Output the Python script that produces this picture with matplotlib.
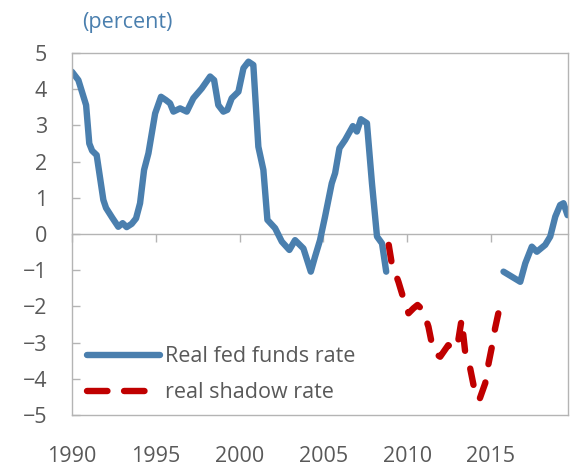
import numpy as np
import matplotlib.pyplot as plt
from matplotlib.lines import Line2D

plt.rcParams['font.family'] = ['Open Sans', 'DejaVu Sans']

# real fed funds rate, first stretch (decimal year, percent)
ffr_years_1 = [1990.0, 1990.38, 1990.84, 1991.03, 1991.2, 1991.47, 1991.87, 1992.03,
               1992.4, 1992.76, 1993.02, 1993.26, 1993.56, 1993.82, 1994.06, 1994.3,
               1994.56, 1994.96, 1995.31, 1995.6, 1995.85, 1996.05, 1996.45, 1996.85,
               1997.24, 1997.74, 1998.24, 1998.48, 1998.73, 1999.03, 1999.27, 1999.53,
               1999.93, 2000.23, 2000.53, 2000.82, 2001.12, 2001.42, 2001.66, 2002.12,
               2002.52, 2002.97, 2003.31, 2003.81, 2004.25, 2004.5, 2004.8, 2005.1,
               2005.5, 2005.7, 2005.96, 2006.3, 2006.76, 2007.0, 2007.24, 2007.6,
               2007.9, 2008.2, 2008.5, 2008.75]
ffr_vals_1 = [4.48, 4.25, 3.56, 2.5, 2.3, 2.18, 0.94, 0.72,
              0.45, 0.2, 0.3, 0.19, 0.28, 0.43, 0.85, 1.77,
              2.23, 3.33, 3.79, 3.7, 3.61, 3.38, 3.47, 3.38,
              3.75, 4.02, 4.35, 4.25, 3.56, 3.38, 3.43, 3.75,
              3.93, 4.58, 4.76, 4.67, 2.41, 1.77, 0.39, 0.16,
              -0.21, -0.44, -0.17, -0.40, -1.04, -0.63, -0.17, 0.48,
              1.40, 1.68, 2.37, 2.60, 2.98, 2.83, 3.17, 3.06,
              1.40, -0.07, -0.26, -1.04]

# real fed funds rate, after liftoff
ffr_years_2 = [2015.75, 2016.25, 2016.75, 2017.05, 2017.44, 2017.74, 2018.24, 2018.54,
               2018.84, 2019.13, 2019.33, 2019.57]
ffr_vals_2 = [-1.04, -1.18, -1.32, -0.81, -0.35, -0.49, -0.3, -0.07,
              0.48, 0.80, 0.85, 0.52]

# real shadow rate
shadow_years = [2008.9, 2009.08, 2009.48, 2009.78, 2010.08, 2010.38, 2010.62, 2010.94,
                2011.27, 2011.47, 2011.67, 2011.97, 2012.45, 2012.85, 2013.04, 2013.25,
                2013.46, 2013.76, 2013.96, 2014.3, 2014.66, 2014.86, 2015.06, 2015.25,
                2015.55]
shadow_vals = [-0.3, -0.81, -1.32, -1.78, -2.19, -2.05, -1.96, -2.10,
               -2.56, -3.02, -3.30, -3.39, -3.07, -3.2, -2.97, -2.36,
               -3.25, -3.71, -4.17, -4.59, -4.12, -3.57, -3.11, -2.6,
               -1.96]

year_ticks = [1990, 1995, 2000, 2005, 2010, 2015]
series_names = ['Real fed funds rate', 'real shadow rate']

blue = '#4A7FAE'
red = '#C00000'
grey = '#B4B4B4'
txt = '#595959'

fig = plt.figure(figsize=(5.73, 4.66), dpi=100)
ax = fig.add_axes([0.1257, 0.1094, 0.8656, 0.7769])

ax.plot(ffr_years_1, ffr_vals_1, color=blue, lw=4.6, solid_capstyle='round',
        solid_joinstyle='round')
ax.plot(ffr_years_2, ffr_vals_2, color=blue, lw=4.6, solid_capstyle='round',
        solid_joinstyle='round')
ax.plot(shadow_years, shadow_vals, color=red, lw=4.6, dashes=(2.6, 2.9),
        dash_capstyle='round', dash_joinstyle='round')

ax.set_xlim(1990, 2019.6)
ax.set_ylim(-5, 5)
ax.set_yticks(np.arange(-5, 6, 1))
ax.set_xticks(year_ticks)

for s in ax.spines.values():
    s.set_color(grey)
    s.set_linewidth(1.0)

ax.tick_params(axis='y', direction='in', length=6, width=1, color=grey,
               labelsize=15.5, labelcolor=txt, pad=18)
ax.tick_params(axis='x', length=0, labelsize=15.5, labelcolor=txt, pad=22)

# zero line carrying the year ticks
zax = ax.secondary_xaxis(0.5)
zax.set_xticks(year_ticks, labels=[''] * len(year_ticks))
zax.tick_params(axis='x', direction='in', length=6, width=1, color=grey)
for s in zax.spines.values():
    s.set_color(grey)
    s.set_linewidth(1.0)

# legend keys drawn like the original (two full dashes for the shadow rate)
handles = [Line2D([], [], color=blue, lw=4.6, solid_capstyle='round'),
           Line2D([], [], color=red, lw=4.6, dashes=(3.2, 2.6), dash_capstyle='round')]
leg = ax.legend(handles, series_names, loc='upper left', bbox_to_anchor=(0.03, 0.19),
                frameon=False, fontsize=15.5, handlelength=3.4, handletextpad=0.25,
                labelspacing=0.7, borderpad=0, borderaxespad=0)
for t in leg.get_texts():
    t.set_color(txt)

fig.text(0.143, 0.952, '(percent)', color=blue, fontsize=15.5, va='center', ha='left')

fig.savefig('out.png', dpi=100)
